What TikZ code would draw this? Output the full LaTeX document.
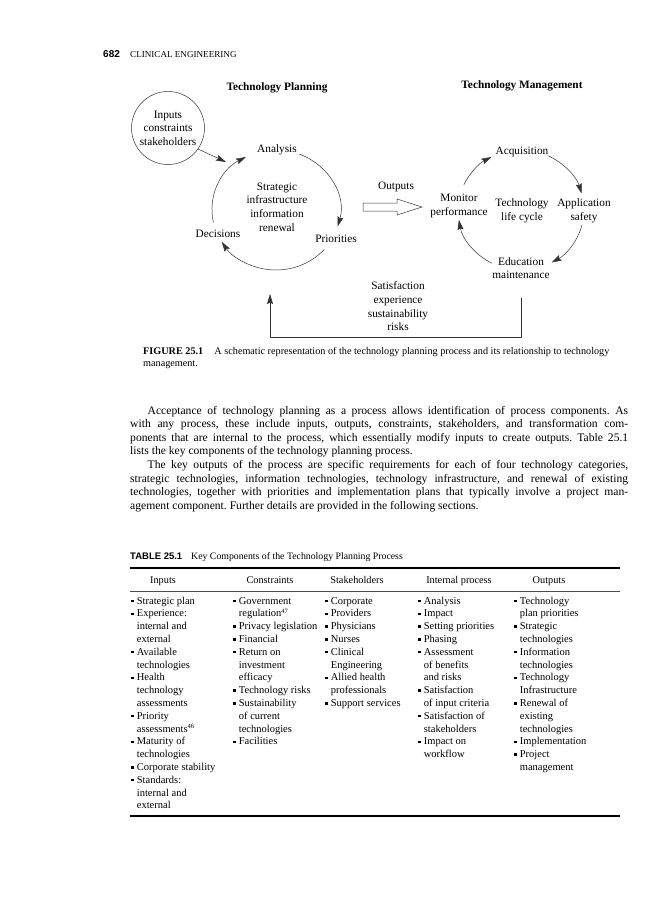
\documentclass[tikz,border=0pt]{standalone}
\usepackage{fontspec}
\setmainfont{Liberation Serif}
\setsansfont{Liberation Sans}
\usetikzlibrary{arrows.meta}
\newcommand\fsz[2]{\fontsize{#1}{#2}\selectfont}
\newcommand\bul{\raisebox{1.9pt}{\rule{2.3pt}{2.3pt}}\hspace{3.4pt}}
\newcommand\ind{\hspace*{5.7pt}}
\newcommand\sups[1]{\raisebox{3.5pt}{\fsz{6.5}{7}#1}}
\begin{document}
\begin{tikzpicture}[x=1pt,y=1pt,
  lbl/.style={inner sep=0, align=center, font=\fsz{11.3}{13.6}},
  ttl/.style={inner sep=0, font=\bfseries\fsz{11.3}{13.6}},
  arr/.style={draw=black!80, line width=0.5pt, -{Stealth[length=10pt,width=6pt,inset=1.5pt]}},
  txt/.style={inner sep=0, anchor=base west},
  colhd/.style={inner sep=0, anchor=base, font=\fsz{10.3}{12.8}},
]
\useasboundingbox (0,0) rectangle (670,-900);
\fill[white] (0,0) rectangle (670,-900);

% running head
\node[txt, font=\sffamily\bfseries\fsz{10}{12}] (pg) at (103,-57) {682};
\node[txt, font=\fsz{9.1}{11}] (rh) at (130,-57) {CLINICAL ENGINEERING};

% titles
\node[ttl] (tp) at (277,-88) {Technology Planning};
\node[ttl] (tm) at (522,-86) {Technology Management};

% inputs circle
\node[lbl, circle, draw=black!80, line width=0.5pt, minimum size=73pt] (inp) at (168,-128) {Inputs\\constraints\\stakeholders};
\coordinate (inpend) at (226,-162);
\draw[arr] (inp.-35) -- (inpend);

% left cycle
\coordinate (c1) at (276,-210);
\node[lbl] (ana) at (277,-150) {Analysis};
\node[lbl] (pri) at (336,-239) {Priorities};
\node[lbl] (dec) at (218,-234) {Decisions};
\node[lbl] (sir) at (277,-207) {Strategic\\infrastructure\\information\\renewal};
\draw[arr] ([shift={(68.5:64 and 60)}]c1) arc[start angle=68.5, end angle=-16, x radius=64, y radius=60];
\draw[arr] ([shift={(-41:64 and 60)}]c1) arc[start angle=-41, end angle=-148, x radius=64, y radius=60];
\draw[arr] ([shift={(192:64 and 60)}]c1) arc[start angle=192, end angle=118, x radius=64, y radius=60];

% outputs arrow
\node[lbl] (outl) at (396,-187) {Outputs};
\draw[draw=black!80, line width=0.5pt] (363,-203) -- (397,-203) -- (397,-199) -- (422,-207) -- (397,-215) -- (397,-211) -- (363,-211) -- cycle;

% right cycle
\coordinate (c2) at (521,-210);
\node[lbl] (acq) at (522,-152) {Acquisition};
\node[lbl] (app) at (584,-211) {Application\\safety};
\node[lbl] (edu) at (521,-268) {Education\\maintenance};
\node[lbl] (mon) at (459,-206) {Monitor\\performance};
\node[lbl] (tlc) at (522,-211) {Technology\\life cycle};
\draw[arr] ([shift={(155:63 and 60)}]c2) arc[start angle=155, end angle=118, x radius=63, y radius=60];
\draw[arr] ([shift={(65:63 and 60)}]c2) arc[start angle=65, end angle=16, x radius=63, y radius=60];
\draw[arr] ([shift={(-14.5:63 and 60)}]c2) arc[start angle=-14.5, end angle=-61, x radius=63, y radius=60];
\draw[arr] ([shift={(242.5:63 and 60)}]c2) arc[start angle=242.5, end angle=189.5, x radius=63, y radius=60];

% feedback
\node[lbl, font=\fsz{11.3}{13.7}] (sat) at (398,-306.5) {Satisfaction\\experience\\sustainability\\risks};
\coordinate (fb1) at (521,-298);
\coordinate (fb2) at (521,-337);
\coordinate (fb3) at (270,-337);
\coordinate (fb4) at (270,-294);
\draw[arr] (fb1) -- (fb2) -- (fb3) -- (fb4);

% caption
\node[txt] (cap) at (143,-354) {\parbox[t]{520pt}{\raggedright\frenchspacing\fsz{10.2}{12.8}\textbf{FIGURE 25.1}\hspace{1.1em}A schematic representation of the technology planning process and its relationship to technology\\management.}};

% body text
\node[txt] (body) at (130,-414) {\parbox[t]{498pt}{\fsz{11.6}{13.6}\frenchspacing\setlength{\parindent}{0pt}%
\hspace*{17.5pt}\makebox[480.5pt][s]{Acceptance of technology planning as a process allows identification of process components. As}\\
\makebox[498pt][s]{with any process, these include inputs, outputs, constraints, stakeholders, and transformation com-}\\
\makebox[498pt][s]{ponents that are internal to the process, which essentially modify inputs to create outputs. Table 25.1}\\
lists the key components of the technology planning process.\\
\hspace*{17.5pt}\makebox[480.5pt][s]{The key outputs of the process are specific requirements for each of four technology categories,}\\
\makebox[498pt][s]{strategic technologies, information technologies, technology infrastructure, and renewal of existing}\\
\makebox[498pt][s]{technologies, together with priorities and implementation plans that typically involve a project man-}\\
agement component. Further details are provided in the following sections.}};

% table
\node[txt] (tcap) at (130,-559.5) {\sffamily\bfseries\fsz{9.5}{12}TABLE 25.1};
\node[txt] (tcapt) at (191,-559.5) {\fsz{9.8}{12}Key Components of the Technology Planning Process};
\coordinate (r1a) at (130,-568); \coordinate (r1b) at (620,-568);
\coordinate (r2a) at (130,-591); \coordinate (r2b) at (620,-591);
\coordinate (r3a) at (130,-816); \coordinate (r3b) at (620,-816);
\draw[line width=1.1pt] (r1a) -- (r1b);
\draw[line width=0.5pt, black!70] (r2a) -- (r2b);
\draw[line width=1.6pt] (r3a) -- (r3b);

\node[colhd] (h1) at (163,-583) {Inputs};
\node[colhd] (h2) at (270,-583) {Constraints};
\node[colhd] (h3) at (357,-583) {Stakeholders};
\node[colhd] (h4) at (459,-583) {Internal process};
\node[colhd] (h5) at (549,-583) {Outputs};

\node[txt] (col1) at (131,-604) {\parbox[t]{100pt}{\raggedright\fsz{10.5}{12.8}%
\bul Strategic plan\\ \bul Experience:\\ \ind internal and\\ \ind external\\ \bul Available\\ \ind technologies\\ \bul Health\\ \ind technology\\ \ind assessments\\ \bul Priority\\ \ind assessments\sups{46}\\ \bul Maturity of\\ \ind technologies\\ \bul Corporate stability\\ \bul Standards:\\ \ind internal and\\ \ind external}};
\node[txt] (col2) at (233,-604) {\parbox[t]{100pt}{\raggedright\fsz{10.5}{12.8}%
\bul Government\\ \ind regulation\sups{47}\\ \bul Privacy legislation\\ \bul Financial\\ \bul Return on\\ \ind investment\\ \ind efficacy\\ \bul Technology risks\\ \bul Sustainability\\ \ind of current\\ \ind technologies\\ \bul Facilities}};
\node[txt] (col3) at (325,-604) {\parbox[t]{100pt}{\raggedright\fsz{10.5}{12.8}%
\bul Corporate\\ \bul Providers\\ \bul Physicians\\ \bul Nurses\\ \bul Clinical\\ \ind Engineering\\ \bul Allied health\\ \ind professionals\\ \bul Support services}};
\node[txt] (col4) at (418,-604) {\parbox[t]{100pt}{\raggedright\fsz{10.5}{12.8}%
\bul Analysis\\ \bul Impact\\ \bul Setting priorities\\ \bul Phasing\\ \bul Assessment\\ \ind of benefits\\ \ind and risks\\ \bul Satisfaction\\ \ind of input criteria\\ \bul Satisfaction of\\ \ind stakeholders\\ \bul Impact on\\ \ind workflow}};
\node[txt] (col5) at (514,-604) {\parbox[t]{100pt}{\raggedright\fsz{10.5}{12.8}%
\bul Technology\\ \ind plan priorities\\ \bul Strategic\\ \ind technologies\\ \bul Information\\ \ind technologies\\ \bul Technology\\ \ind Infrastructure\\ \bul Renewal of\\ \ind existing\\ \ind technologies\\ \bul Implementation\\ \bul Project\\ \ind management}};
\end{tikzpicture}
\end{document}
